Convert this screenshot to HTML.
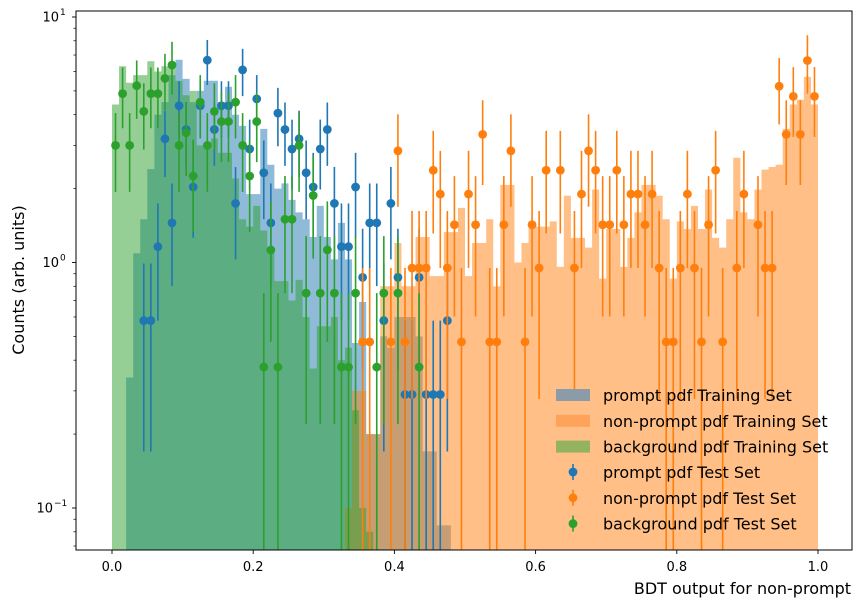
<!DOCTYPE html>
<html><head><meta charset="utf-8"><style>
body{margin:0;background:#fff;}
svg{display:block;font-family:"DejaVu Sans","Liberation Sans",sans-serif;}
</style></head><body>
<svg id="chart" width="861" height="607" viewBox="0 0 861 607">
<defs><clipPath id="pc"><rect x="76" y="11" width="776" height="539"/></clipPath></defs>
<rect x="0" y="0" width="861" height="607" fill="#fff"/>
<g id="hists" clip-path="url(#pc)"></g>
<g id="points" clip-path="url(#pc)"></g>
<rect x="76" y="11" width="776" height="539" fill="none" stroke="#000" stroke-width="1"/>
<g id="axes"></g>
<text x="24" y="280" transform="rotate(-90 24 280)" text-anchor="middle" font-size="16">Counts (arb. units)</text>
<text x="851" y="594" text-anchor="end" font-size="16">BDT output for non-prompt</text>
<g id="legend"></g>
</svg>
<script>
const xTicks=[0,0.2,0.4,0.6,0.8,1.0];
const xTickLabels=["0.0","0.2","0.4","0.6","0.8","1.0"];
const yDecades=[-1,0,1];
// training histograms: [binIndex, value] (bin width 0.01)
const promptTrain=[[2,0.34],[3,1.09],[4,1.5],[5,2.4],[6,4.0],[7,4.5],[8,5.8],[9,6.7],[10,5.6],[11,4.5],[12,5.0],[13,5.5],[14,5.5],[15,4.5],[16,5.2],[17,4.0],[18,3.6],[19,1.9],[20,1.9],[21,3.5],[22,2.5],[23,2.0],[24,2.1],[25,1.8],[26,1.6],[27,1.5],[28,1.27],[29,1.7],[30,1.27],[31,1.03],[32,1.45],[33,1.03],[34,0.47],[35,0.69],[36,0.2],[37,0.2],[38,0.5],[39,0.45],[40,0.6],[41,0.6],[42,0.6],[43,0.5],[44,0.17],[45,0.17],[46,0.085],[47,0.085]];
const nonpromptTrain=[[33,0.1],[34,0.3],[35,0.3],[36,0.2],[37,0.2],[38,0.8],[39,0.8],[40,1.2],[41,0.8],[42,0.8],[43,1.27],[44,1.27],[45,0.88],[46,0.88],[47,1.33],[48,1.33],[49,1.67],[50,0.88],[51,1.2],[52,1.2],[53,1.5],[54,0.8],[55,2.07],[56,2.07],[57,1.0],[58,1.2],[59,1.4],[60,1.4],[61,1.4],[62,1.47],[63,0.96],[64,1.87],[65,1.26],[66,1.26],[67,1.15],[68,1.98],[69,0.86],[70,1.37],[71,1.37],[72,0.96],[73,1.26],[74,1.6],[75,2.07],[76,2.07],[77,1.87],[78,1.5],[79,0.86],[80,1.47],[81,1.37],[82,1.7],[83,1.37],[84,1.98],[85,1.26],[86,1.15],[87,1.5],[88,2.67],[89,1.6],[90,1.5],[91,1.98],[92,2.39],[93,2.45],[94,2.5],[95,3.5],[96,4.4],[97,4.6],[98,5.7],[99,4.4]];
const backgroundTrain=[[0,4.4],[1,6.3],[2,5.4],[3,5.8],[4,5.8],[5,6.6],[6,6.0],[7,6.3],[8,6.4],[9,5.5],[10,4.8],[11,5.0],[12,3.0],[13,3.0],[14,3.2],[15,2.8],[16,2.8],[17,2.2],[18,1.5],[19,1.4],[20,1.7],[21,1.35],[22,1.1],[23,0.84],[24,0.84],[25,0.7],[26,0.85],[27,0.6],[28,0.37],[29,0.55],[30,0.55],[31,0.6],[32,0.4],[33,0.45],[34,0.25],[35,0.1],[36,0.08]];
// test sets: [binIndex, counts]; value = counts*scale, error = sqrt(counts)*scale
const promptScale=0.29, nonpromptScale=0.475, backgroundScale=0.375;
const promptTest=[[4,2],[5,2],[6,4],[7,11],[8,5],[9,15],[10,12],[11,7],[12,15],[13,23],[14,12],[15,15],[16,15],[17,6],[18,21],[19,10],[20,16],[21,8],[22,5],[23,14],[24,12],[25,10],[26,11],[27,8],[28,7],[29,10],[30,12],[31,6],[32,4],[33,4],[34,7],[35,3],[36,5],[37,5],[38,2],[39,6],[40,3],[41,1],[42,1],[43,3],[44,1],[45,1],[46,1],[47,2]];
const nonpromptTest=[[35,1],[36,1],[39,1],[40,6],[41,1],[42,2],[43,2],[44,2],[45,5],[46,4],[47,2],[48,3],[49,1],[50,4],[51,3],[52,7],[53,1],[54,1],[55,3],[56,6],[58,1],[59,3],[60,2],[61,5],[63,5],[65,2],[66,4],[67,6],[68,5],[69,3],[70,3],[71,5],[72,3],[73,4],[74,4],[75,3],[76,4],[77,2],[78,1],[79,1],[80,2],[81,4],[82,2],[83,1],[84,3],[85,5],[86,1],[88,2],[89,4],[91,3],[92,2],[93,2],[94,11],[95,7],[96,10],[97,7],[98,14],[99,10]];
const backgroundTest=[[0,8],[1,13],[2,8],[3,14],[4,11],[5,13],[6,13],[7,15],[8,17],[9,8],[10,9],[11,6],[12,12],[13,8],[14,11],[15,10],[16,10],[17,12],[18,8],[19,6],[20,10],[21,1],[22,3],[23,1],[24,4],[25,4],[26,8],[27,2],[28,5],[29,2],[30,3],[31,2],[32,1],[33,1],[34,2],[37,1],[38,2],[40,2],[43,1]];

const NS="http://www.w3.org/2000/svg";
const X0=112, XS=706, Y1=262.5, YD=245.5, YBOT=550, BW=0.01;
function xs(v){return X0+XS*v;}
function ys(v){return v<=0?YBOT+5:Y1-YD*Math.log10(v);}
function mk(tag,attrs,parent){const e=document.createElementNS(NS,tag);for(const k in attrs)e.setAttribute(k,attrs[k]);parent.appendChild(e);return e;}

const hg=document.getElementById('hists');
function drawHist(data,color,name){
  let d='';
  data.forEach(b=>{
    const x0=xs(b[0]*BW), x1=xs((b[0]+1)*BW), y=ys(b[1]);
    d+='M'+x0.toFixed(2)+' '+(YBOT+2)+'L'+x0.toFixed(2)+' '+y.toFixed(2)+'L'+x1.toFixed(2)+' '+y.toFixed(2)+'L'+x1.toFixed(2)+' '+(YBOT+2)+'Z';
  });
  // merge adjacent bins into one outline to avoid seams
  let pts=[], prev=null;
  const sorted=data.slice().sort((a,b)=>a[0]-b[0]);
  let path='';
  let run=[];
  function flush(){
    if(!run.length)return;
    let p='M'+xs(run[0][0]*BW).toFixed(2)+' '+(YBOT+2);
    run.forEach(b=>{const y=ys(b[1]).toFixed(2);p+='L'+xs(b[0]*BW).toFixed(2)+' '+y+'L'+xs((b[0]+1)*BW).toFixed(2)+' '+y;});
    p+='L'+xs((run[run.length-1][0]+1)*BW).toFixed(2)+' '+(YBOT+2)+'Z';
    path+=p;run=[];
  }
  sorted.forEach(b=>{if(run.length&&b[0]!==run[run.length-1][0]+1)flush();run.push(b);});
  flush();
  const el=mk('path',{d:path,fill:color,'fill-opacity':0.5},hg);
  
  
}
drawHist(promptTrain,'#1f77b4','prompt-train');
drawHist(nonpromptTrain,'#ff7f0e','nonprompt-train');
drawHist(backgroundTrain,'#2ca02c','background-train');

const pg=document.getElementById('points');
function drawPts(data,scale,color,name){
  data.forEach(d=>{
    const v=d[1]*scale, e=Math.sqrt(d[1])*scale, cx=xs((d[0]+0.5)*BW);
    const l=mk('line',{x1:cx,x2:cx,y1:ys(v+e),y2:ys(v-e),stroke:color,'stroke-width':1.6},pg);
    
    
    const c=mk('circle',{cx:cx,cy:ys(v),r:4.4,fill:color},pg);
    
    
  });
}
drawPts(promptTest,promptScale,'#1f77b4','prompt-test');
drawPts(nonpromptTest,nonpromptScale,'#ff7f0e','nonprompt-test');
drawPts(backgroundTest,backgroundScale,'#2ca02c','background-test');

const ag=document.getElementById('axes');
xTicks.forEach((t,i)=>{
  const x=xs(t);
  const l=mk('line',{x1:x,x2:x,y1:550,y2:554,stroke:'#000','stroke-width':0.9},ag);
  
  
  const tx=mk('text',{x:x,y:571,'text-anchor':'middle','font-size':13},ag);
  tx.textContent=xTickLabels[i];
  
  
});
function minor(dc){
  for(let m=2;m<=9;m++){
    const yy=Y1-YD*(dc+Math.log10(m));
    if(yy<11||yy>550)continue;
    const ml=mk('line',{x1:73.5,x2:76,y1:yy,y2:yy,stroke:'#000','stroke-width':0.7},ag);
    
    
  }
}
minor(-2);
yDecades.forEach(dc=>{
  const y=Y1-YD*dc;
  const l=mk('line',{x1:72,x2:76,y1:y,y2:y,stroke:'#000','stroke-width':0.9},ag);
  
  
  const tx=mk('text',{x:dc<0?53:59,y:y+4.5,'text-anchor':'end','font-size':13},ag);
  tx.textContent='10';
  
  
  const sp=mk('text',{x:dc<0?54:60,y:y-2,'text-anchor':'start','font-size':9},ag);
  sp.textContent=dc<0?'\u2212'+(-dc):String(dc);
  
  
  minor(dc);
});

const lg=document.getElementById('legend');
const legPatches=[['prompt pdf Training Set','#8c9ba8'],['non-prompt pdf Training Set','#fda35c'],['background pdf Training Set','#93b360']];
const legPts=[['prompt pdf Test Set','#1f77b4'],['non-prompt pdf Test Set','#ff7f0e'],['background pdf Test Set','#2ca02c']];
legPatches.forEach((p,i)=>{
  const y=395+i*25.8;
  const r=mk('rect',{x:556,y:y-6,width:34,height:12,fill:p[1]},lg);
  
  
  const t=mk('text',{x:603,y:y+6,'font-size':16},lg);
  t.textContent=p[0];
  
  
});
legPts.forEach((p,i)=>{
  const y=472+i*25.8;
  const l=mk('line',{x1:573,x2:573,y1:y-8,y2:y+8,stroke:p[1],'stroke-width':1.6},lg);
  
  
  const c=mk('circle',{cx:573,cy:y,r:4.4,fill:p[1]},lg);
  
  
  const t=mk('text',{x:603,y:y+6,'font-size':16},lg);
  t.textContent=p[0];
  
  
});
</script>
</body></html>
